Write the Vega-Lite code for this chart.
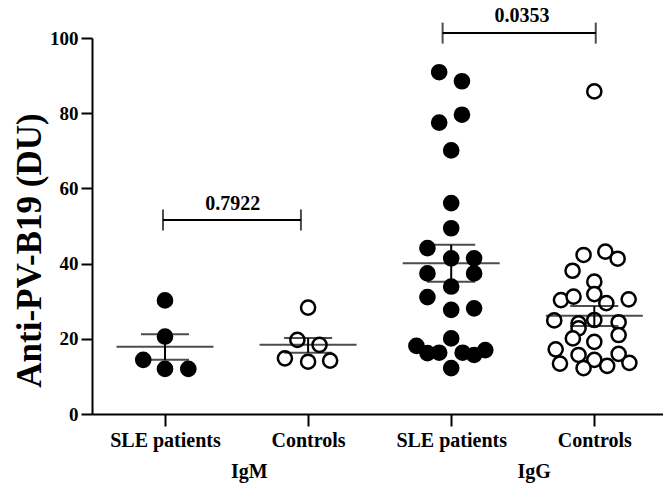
{
  "$schema": "https://vega.github.io/schema/vega-lite/v6.json",
  "width": 571,
  "height": 376,
  "autosize": {"type": "none"},
  "padding": {"left": 92, "top": 38, "right": 0, "bottom": 79},
  "background": "white",
  "config": {"view": {"stroke": null}, "font": "Liberation Serif"},
  "datasets": {
    "points": [
      {"isotype": "IgM", "cohort": "SLE patients", "pos": 1.0, "value": 30.2},
      {"isotype": "IgM", "cohort": "SLE patients", "pos": 1.0, "value": 20.6},
      {"isotype": "IgM", "cohort": "SLE patients", "pos": 0.848, "value": 14.4},
      {"isotype": "IgM", "cohort": "SLE patients", "pos": 1.0, "value": 12.0},
      {"isotype": "IgM", "cohort": "SLE patients", "pos": 1.163, "value": 12.0},
      {"isotype": "IgM", "cohort": "Controls", "pos": 2.0, "value": 28.3},
      {"isotype": "IgM", "cohort": "Controls", "pos": 1.925, "value": 19.7},
      {"isotype": "IgM", "cohort": "Controls", "pos": 2.08, "value": 18.4},
      {"isotype": "IgM", "cohort": "Controls", "pos": 1.838, "value": 14.8},
      {"isotype": "IgM", "cohort": "Controls", "pos": 2.0, "value": 13.9},
      {"isotype": "IgM", "cohort": "Controls", "pos": 2.154, "value": 14.2},
      {"isotype": "IgG", "cohort": "SLE patients", "pos": 2.916, "value": 90.9},
      {"isotype": "IgG", "cohort": "SLE patients", "pos": 3.075, "value": 88.5},
      {"isotype": "IgG", "cohort": "SLE patients", "pos": 2.916, "value": 77.5},
      {"isotype": "IgG", "cohort": "SLE patients", "pos": 3.075, "value": 79.6},
      {"isotype": "IgG", "cohort": "SLE patients", "pos": 3.0, "value": 70.1},
      {"isotype": "IgG", "cohort": "SLE patients", "pos": 3.0, "value": 56.1},
      {"isotype": "IgG", "cohort": "SLE patients", "pos": 3.0, "value": 49.4},
      {"isotype": "IgG", "cohort": "SLE patients", "pos": 2.834, "value": 44.1},
      {"isotype": "IgG", "cohort": "SLE patients", "pos": 3.0, "value": 41.4},
      {"isotype": "IgG", "cohort": "SLE patients", "pos": 3.16, "value": 41.4},
      {"isotype": "IgG", "cohort": "SLE patients", "pos": 2.834, "value": 37.4},
      {"isotype": "IgG", "cohort": "SLE patients", "pos": 3.16, "value": 37.4},
      {"isotype": "IgG", "cohort": "SLE patients", "pos": 3.0, "value": 33.9},
      {"isotype": "IgG", "cohort": "SLE patients", "pos": 2.834, "value": 31.1},
      {"isotype": "IgG", "cohort": "SLE patients", "pos": 3.0, "value": 27.7},
      {"isotype": "IgG", "cohort": "SLE patients", "pos": 3.16, "value": 28.1},
      {"isotype": "IgG", "cohort": "SLE patients", "pos": 3.0, "value": 20.1},
      {"isotype": "IgG", "cohort": "SLE patients", "pos": 2.757, "value": 18.1},
      {"isotype": "IgG", "cohort": "SLE patients", "pos": 2.834, "value": 16.2},
      {"isotype": "IgG", "cohort": "SLE patients", "pos": 2.916, "value": 16.3},
      {"isotype": "IgG", "cohort": "SLE patients", "pos": 3.08, "value": 16.3},
      {"isotype": "IgG", "cohort": "SLE patients", "pos": 3.16, "value": 15.7},
      {"isotype": "IgG", "cohort": "SLE patients", "pos": 3.238, "value": 17.0},
      {"isotype": "IgG", "cohort": "SLE patients", "pos": 3.0, "value": 12.2},
      {"isotype": "IgG", "cohort": "Controls", "pos": 4.0, "value": 85.8},
      {"isotype": "IgG", "cohort": "Controls", "pos": 3.925, "value": 42.3},
      {"isotype": "IgG", "cohort": "Controls", "pos": 4.077, "value": 43.2},
      {"isotype": "IgG", "cohort": "Controls", "pos": 4.163, "value": 41.3},
      {"isotype": "IgG", "cohort": "Controls", "pos": 3.848, "value": 38.1},
      {"isotype": "IgG", "cohort": "Controls", "pos": 4.0, "value": 35.2},
      {"isotype": "IgG", "cohort": "Controls", "pos": 3.767, "value": 30.3},
      {"isotype": "IgG", "cohort": "Controls", "pos": 3.855, "value": 31.2},
      {"isotype": "IgG", "cohort": "Controls", "pos": 4.0, "value": 31.9},
      {"isotype": "IgG", "cohort": "Controls", "pos": 4.084, "value": 29.5},
      {"isotype": "IgG", "cohort": "Controls", "pos": 4.24, "value": 30.5},
      {"isotype": "IgG", "cohort": "Controls", "pos": 3.72, "value": 24.9},
      {"isotype": "IgG", "cohort": "Controls", "pos": 3.89, "value": 24.1},
      {"isotype": "IgG", "cohort": "Controls", "pos": 4.17, "value": 24.4},
      {"isotype": "IgG", "cohort": "Controls", "pos": 3.89, "value": 22.8},
      {"isotype": "IgG", "cohort": "Controls", "pos": 4.0, "value": 25.0},
      {"isotype": "IgG", "cohort": "Controls", "pos": 3.85, "value": 20.1},
      {"isotype": "IgG", "cohort": "Controls", "pos": 4.0, "value": 19.2},
      {"isotype": "IgG", "cohort": "Controls", "pos": 4.17, "value": 21.0},
      {"isotype": "IgG", "cohort": "Controls", "pos": 3.73, "value": 17.2},
      {"isotype": "IgG", "cohort": "Controls", "pos": 3.89, "value": 15.7},
      {"isotype": "IgG", "cohort": "Controls", "pos": 4.0, "value": 14.4},
      {"isotype": "IgG", "cohort": "Controls", "pos": 4.17, "value": 16.0},
      {"isotype": "IgG", "cohort": "Controls", "pos": 3.76, "value": 13.4},
      {"isotype": "IgG", "cohort": "Controls", "pos": 3.925, "value": 12.2},
      {"isotype": "IgG", "cohort": "Controls", "pos": 4.09, "value": 12.8},
      {"isotype": "IgG", "cohort": "Controls", "pos": 4.245, "value": 13.6}
    ],
    "summary": [
      {"isotype": "IgM", "cohort": "SLE patients", "pos": 1, "mean": 17.9, "lo": 14.4, "hi": 21.2},
      {"isotype": "IgM", "cohort": "Controls", "pos": 2, "mean": 18.4, "lo": 16.3, "hi": 20.2},
      {"isotype": "IgG", "cohort": "SLE patients", "pos": 3, "mean": 40.1, "lo": 35.2, "hi": 45.0},
      {"isotype": "IgG", "cohort": "Controls", "pos": 4, "mean": 26.1, "lo": 23.4, "hi": 28.7}
    ],
    "brackets": [
      {"from": 0.986, "to": 1.95, "y": 51.6, "mid": 1.473, "ty": 55.9, "p": "0.7922"},
      {"from": 2.94, "to": 4.01, "y": 101.3, "mid": 3.494, "ty": 105.8, "p": "0.0353"}
    ],
    "groups": [
      {"isotype": "IgM", "pos": 1.59, "y": -15.5},
      {"isotype": "IgG", "pos": 3.58, "y": -15.5}
    ]
  },
  "layer": [
    {
      "data": {"name": "points"},
      "mark": {"type": "point", "shape": "circle", "size": 200, "strokeWidth": 2.5, "stroke": "black", "opacity": 1},
      "encoding": {
        "x": {
          "field": "pos", "type": "quantitative",
          "scale": {"domain": [0.49, 4.48], "nice": false, "zero": false},
          "axis": {
            "values": [1, 2, 3, 4],
            "labelExpr": "datum.value == 1 || datum.value == 3 ? 'SLE patients' : 'Controls'",
            "title": null, "grid": false,
            "labelFont": "Liberation Serif", "labelFontWeight": "bold", "labelFontSize": 20, "labelColor": "black",
            "labelPadding": 4, "tickSize": 12, "tickWidth": 2, "tickColor": "black",
            "domainColor": "black", "domainWidth": 2, "labelFlush": false, "labelOverlap": false
          }
        },
        "y": {
          "field": "value", "type": "quantitative",
          "scale": {"domain": [0, 100], "nice": false},
          "axis": {
            "values": [0, 20, 40, 60, 80, 100], "grid": false,
            "labelFont": "Liberation Serif", "labelFontWeight": "bold", "labelFontSize": 19, "labelColor": "black",
            "labelPadding": 3, "tickSize": 11, "tickWidth": 2, "tickColor": "black",
            "domainColor": "black", "domainWidth": 2,
            "title": "Anti-PV-B19 (DU)", "titleFont": "Liberation Serif", "titleFontWeight": "bold", "titleFontSize": 35,
            "titleColor": "black", "titleX": -63, "titleY": 212, "titleAngle": -90, "titleAlign": "center", "titleBaseline": "middle"
          }
        },
        "fill": {
          "field": "cohort", "type": "nominal",
          "scale": {"domain": ["SLE patients", "Controls"], "range": ["black", "white"]},
          "legend": null
        }
      }
    },
    {
      "data": {"name": "summary"},
      "mark": {"type": "tick", "orient": "horizontal", "size": 97, "thickness": 2, "color": "black"},
      "encoding": {
        "x": {"field": "pos", "type": "quantitative"},
        "y": {"field": "mean", "type": "quantitative"}
      }
    },
    {
      "data": {"name": "summary"},
      "mark": {"type": "tick", "orient": "horizontal", "size": 48, "thickness": 2, "color": "black"},
      "encoding": {
        "x": {"field": "pos", "type": "quantitative"},
        "y": {"field": "lo", "type": "quantitative"}
      }
    },
    {
      "data": {"name": "summary"},
      "mark": {"type": "tick", "orient": "horizontal", "size": 48, "thickness": 2, "color": "black"},
      "encoding": {
        "x": {"field": "pos", "type": "quantitative"},
        "y": {"field": "hi", "type": "quantitative"}
      }
    },
    {
      "data": {"name": "summary"},
      "mark": {"type": "rule", "strokeWidth": 2, "color": "black"},
      "encoding": {
        "x": {"field": "pos", "type": "quantitative"},
        "y": {"field": "lo", "type": "quantitative"},
        "y2": {"field": "hi"}
      }
    },
    {
      "data": {"name": "brackets"},
      "mark": {"type": "rule", "strokeWidth": 2, "color": "black"},
      "encoding": {
        "x": {"field": "from", "type": "quantitative"},
        "x2": {"field": "to"},
        "y": {"field": "y", "type": "quantitative"}
      }
    },
    {
      "data": {"name": "brackets"},
      "mark": {"type": "tick", "orient": "vertical", "size": 21, "thickness": 2, "color": "black"},
      "encoding": {
        "x": {"field": "from", "type": "quantitative"},
        "y": {"field": "y", "type": "quantitative"}
      }
    },
    {
      "data": {"name": "brackets"},
      "mark": {"type": "tick", "orient": "vertical", "size": 21, "thickness": 2, "color": "black"},
      "encoding": {
        "x": {"field": "to", "type": "quantitative"},
        "y": {"field": "y", "type": "quantitative"}
      }
    },
    {
      "data": {"name": "brackets"},
      "mark": {"type": "text", "font": "Liberation Serif", "fontWeight": "bold", "fontSize": 20, "color": "black", "align": "center", "baseline": "middle"},
      "encoding": {
        "x": {"field": "mid", "type": "quantitative"},
        "y": {"field": "ty", "type": "quantitative"},
        "text": {"field": "p", "type": "nominal"}
      }
    },
    {
      "data": {"name": "groups"},
      "mark": {"type": "text", "font": "Liberation Serif", "fontWeight": "bold", "fontSize": 20, "color": "black", "align": "center", "baseline": "middle"},
      "encoding": {
        "x": {"field": "pos", "type": "quantitative"},
        "y": {"field": "y", "type": "quantitative"},
        "text": {"field": "isotype", "type": "nominal"}
      }
    }
  ]
}
